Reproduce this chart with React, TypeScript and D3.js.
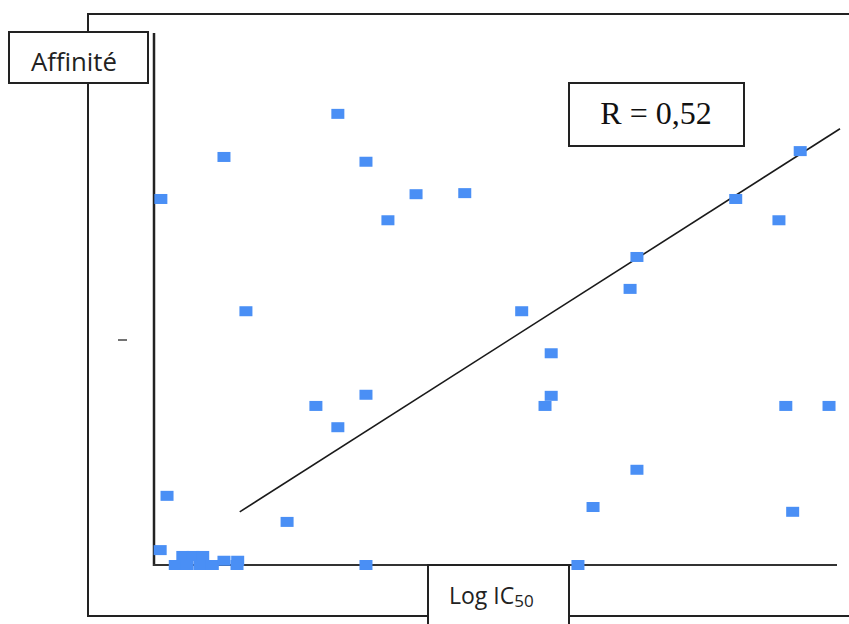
import React from "react";
import * as d3 from "d3";

// Log IC50 (x) vs Affinité (y), arbitrary units
const logIC50: number[] = [
  0.10, 1.02, 2.68, 3.09, 3.41, 3.82, 4.53, 1.34, 2.36, 2.68,
  3.09, 1.94, 0.19, 0.09, 3.09, 5.36, 5.79, 5.79, 5.70, 6.40,
  6.18, 7.04, 7.04, 6.94, 8.48, 9.11, 9.42, 9.21, 9.84, 9.31,
  0.31, 0.42, 0.57, 0.71, 0.48, 0.67, 0.85, 1.02, 1.22, 1.21,
];
const affinite: number[] = [
  6.88, 7.67, 8.48, 7.58, 6.48, 6.97, 6.99, 4.77, 2.99, 2.59,
  3.20, 0.81, 1.30, 0.28, 0.00, 4.77, 3.98, 3.18, 2.99, 1.09,
  0.00, 1.79, 5.79, 5.19, 6.88, 6.48, 7.78, 2.99, 2.99, 1.00,
  0.00, 0.17, 0.17, 0.17, 0.00, 0.00, 0.00, 0.08, 0.08, 0.00,
];
// regression line y = slope * x + intercept, drawn over xFit range
const fitSlope = 0.823;
const fitIntercept = -0.03;
const fitRange: number[] = [1.25, 10];
const rLabel = "R = 0,52";
const yLabel = "Affinité";
const xLabelMain = "Log IC";
const xLabelSub = "50";

const W = 849;
const H = 624;

export default function App() {
  const x = d3.scaleLinear().domain([0, 10]).range([154, 840]);
  const y = d3.scaleLinear().domain([0, 10]).range([565, 33]);
  const pts = logIC50.map((v, i) => ({ x: v, y: affinite[i] }));
  const fit = d3
    .line<number>()
    .x((d) => x(d))
    .y((d) => y(fitSlope * d + fitIntercept));
  const stroke = "#222";
  return (
    <div style={{ position: "fixed", left: 0, top: 0 }}>
      <svg width={W} height={H} style={{ display: "block", background: "#fff" }}>
        {/* outer frame */}
        <line x1={88} y1={14} x2={W} y2={14} stroke={stroke} strokeWidth={2} />
        <line x1={88} y1={13} x2={88} y2={617} stroke={stroke} strokeWidth={2} />
        <line x1={87} y1={616} x2={428} y2={616} stroke={stroke} strokeWidth={2} />
        <line x1={569} y1={616} x2={W} y2={616} stroke={stroke} strokeWidth={2} />
        {/* axes */}
        <line x1={154} y1={y(10)} x2={154} y2={566} stroke={stroke} strokeWidth={2.5} />
        <line x1={153} y1={565} x2={837} y2={565} stroke="#333" strokeWidth={2} />
        {/* small stray mark */}
        <line x1={118} y1={340} x2={127} y2={340} stroke="#444" strokeWidth={1.5} />
        {/* Affinité box */}
        <rect x={9} y={32} width={139} height={51} fill="#fff" stroke={stroke} strokeWidth={2} />
        <text x={31} y={71} fontFamily="Open Sans" fontSize={26} fill="#222" textLength={86} lengthAdjust="spacingAndGlyphs">
          {yLabel}
        </text>
        {/* Log IC50 box */}
        <rect x={428} y={565} width={141} height={70} fill="#fff" stroke={stroke} strokeWidth={2} />
        <text x={449} y={604} fontFamily="Open Sans" fontSize={23} fill="#222">
          <tspan>{xLabelMain}</tspan>
          <tspan dy={3} fontSize={17}>{xLabelSub}</tspan>
        </text>
        {/* R box */}
        <rect x={569} y={83} width={175} height={63} fill="#fff" stroke={stroke} strokeWidth={2} />
        <text x={656} y={124} textAnchor="middle" fontFamily="Liberation Serif" fontSize={32} fill="#111">
          {rLabel}
        </text>
        {/* regression line */}
        <path d={fit(fitRange) || ""} fill="none" stroke="#1a1a1a" strokeWidth={1.6} />
        {/* points */}
        {pts.map((p, i) => (
          <rect
            key={i}
            x={x(p.x) - 6.5}
            y={y(p.y) - 5}
            width={13}
            height={10}
            fill="#4a8ff5"
          />
        ))}
      </svg>
    </div>
  );
}
